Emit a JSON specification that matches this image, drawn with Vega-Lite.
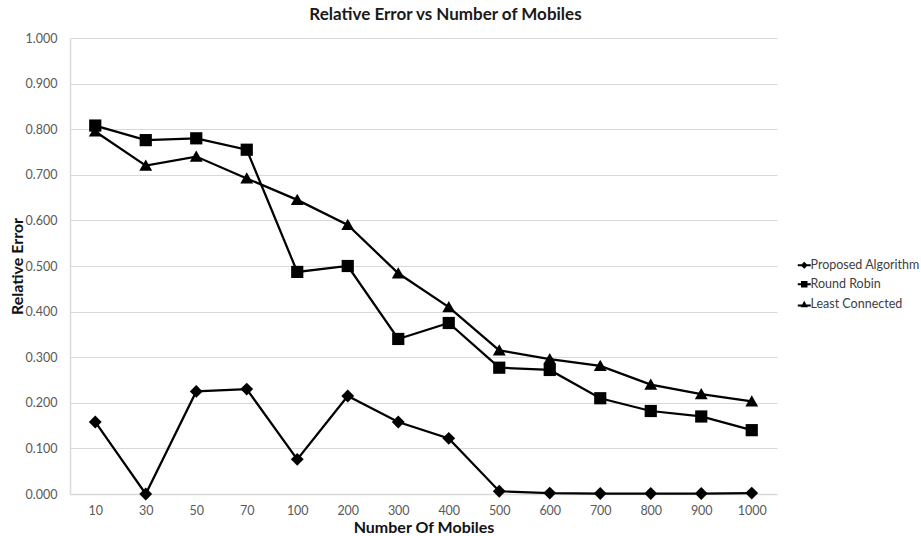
{
  "$schema": "https://vega.github.io/schema/vega-lite/v6.json",
  "width": 707,
  "height": 456,
  "autosize": "none",
  "padding": {"left": 70, "top": 38, "right": 144, "bottom": 42},
  "background": "white",
  "title": {
    "text": "Relative Error vs Number of Mobiles",
    "font": "Lato",
    "fontSize": 17,
    "fontWeight": "bold",
    "color": "#1a1a1a",
    "anchor": "middle",
    "dx": 22,
    "offset": 8
  },
  "config": {
    "view": {"stroke": null},
    "font": "Lato",
    "axis": {
      "labelFont": "Lato",
      "labelFontSize": 12.5,
      "labelColor": "#595959",
      "titleFont": "Lato",
      "titleFontSize": 16,
      "titleFontWeight": "bold",
      "titleColor": "#111111",
      "gridColor": "#d9d9d9",
      "gridWidth": 1,
      "domainColor": "#d9d9d9",
      "domainWidth": 1.5
    }
  },
  "data": {
    "values": [
      {"n": 10, "series": "Proposed Algorithm", "value": 0.158},
      {"n": 30, "series": "Proposed Algorithm", "value": 0.000},
      {"n": 50, "series": "Proposed Algorithm", "value": 0.225},
      {"n": 70, "series": "Proposed Algorithm", "value": 0.230},
      {"n": 100, "series": "Proposed Algorithm", "value": 0.076},
      {"n": 200, "series": "Proposed Algorithm", "value": 0.215},
      {"n": 300, "series": "Proposed Algorithm", "value": 0.158},
      {"n": 400, "series": "Proposed Algorithm", "value": 0.122},
      {"n": 500, "series": "Proposed Algorithm", "value": 0.006},
      {"n": 600, "series": "Proposed Algorithm", "value": 0.002},
      {"n": 700, "series": "Proposed Algorithm", "value": 0.001},
      {"n": 800, "series": "Proposed Algorithm", "value": 0.001},
      {"n": 900, "series": "Proposed Algorithm", "value": 0.001},
      {"n": 1000, "series": "Proposed Algorithm", "value": 0.002},
      {"n": 10, "series": "Round Robin", "value": 0.808},
      {"n": 30, "series": "Round Robin", "value": 0.776},
      {"n": 50, "series": "Round Robin", "value": 0.780},
      {"n": 70, "series": "Round Robin", "value": 0.755},
      {"n": 100, "series": "Round Robin", "value": 0.487},
      {"n": 200, "series": "Round Robin", "value": 0.500},
      {"n": 300, "series": "Round Robin", "value": 0.340},
      {"n": 400, "series": "Round Robin", "value": 0.375},
      {"n": 500, "series": "Round Robin", "value": 0.277},
      {"n": 600, "series": "Round Robin", "value": 0.272},
      {"n": 700, "series": "Round Robin", "value": 0.210},
      {"n": 800, "series": "Round Robin", "value": 0.182},
      {"n": 900, "series": "Round Robin", "value": 0.170},
      {"n": 1000, "series": "Round Robin", "value": 0.140},
      {"n": 10, "series": "Least Connected", "value": 0.795},
      {"n": 30, "series": "Least Connected", "value": 0.720},
      {"n": 50, "series": "Least Connected", "value": 0.740},
      {"n": 70, "series": "Least Connected", "value": 0.692},
      {"n": 100, "series": "Least Connected", "value": 0.645},
      {"n": 200, "series": "Least Connected", "value": 0.590},
      {"n": 300, "series": "Least Connected", "value": 0.484},
      {"n": 400, "series": "Least Connected", "value": 0.410},
      {"n": 500, "series": "Least Connected", "value": 0.315},
      {"n": 600, "series": "Least Connected", "value": 0.296},
      {"n": 700, "series": "Least Connected", "value": 0.281},
      {"n": 800, "series": "Least Connected", "value": 0.240},
      {"n": 900, "series": "Least Connected", "value": 0.219},
      {"n": 1000, "series": "Least Connected", "value": 0.203}
    ]
  },
  "encoding": {
    "x": {
      "field": "n",
      "type": "ordinal",
      "scale": {"type": "point", "padding": 0.5},
      "axis": {
        "title": "Number Of Mobiles",
        "labelAngle": 0,
        "ticks": false,
        "labelPadding": 10,
        "titlePadding": 3,
        "grid": false
      }
    },
    "y": {
      "field": "value",
      "type": "quantitative",
      "scale": {"domain": [0, 1], "nice": false},
      "axis": {
        "title": "Relative Error",
        "values": [0, 0.1, 0.2, 0.3, 0.4, 0.5, 0.6, 0.7, 0.8, 0.9, 1.0],
        "format": ".3f",
        "ticks": false,
        "labelPadding": 13,
        "titlePadding": 0
      }
    }
  },
  "resolve": {"scale": {"shape": "independent"}},
  "layer": [
    {
      "mark": {"type": "line", "color": "black", "strokeWidth": 2.25},
      "encoding": {"detail": {"field": "series"}}
    },
    {
      "mark": {"type": "point", "filled": true, "color": "black", "opacity": 1, "size": 165},
      "encoding": {
        "shape": {
          "field": "series",
          "type": "nominal",
          "scale": {
            "domain": ["Proposed Algorithm", "Round Robin", "Least Connected"],
            "range": [
              "M0,-1L1,0L0,1L-1,0Z",
              "M-0.95,-0.95H0.95V0.95H-0.95Z",
              "M0,-0.95L1,0.8H-1Z"
            ]
          },
          "legend": null
        }
      }
    },
    {
      "mark": {"type": "point", "filled": true, "color": "black", "opacity": 0, "size": 10},
      "encoding": {
        "shape": {
          "field": "series",
          "type": "nominal",
          "scale": {
            "domain": ["Proposed Algorithm", "Round Robin", "Least Connected"],
            "range": [
              "M-1.8,-0.25H1.8V0.25H-1.8ZM0,-1L1,0L0,1L-1,0Z",
              "M-1.8,-0.25H1.8V0.25H-1.8ZM-0.9,-0.9H0.9V0.9H-0.9Z",
              "M-1.8,0.1H1.8V0.6H-1.8ZM0,-0.95L1,0.8H-1Z"
            ]
          },
          "legend": {
            "title": null,
            "orient": "none",
            "legendX": 728,
            "legendY": 221,
            "symbolSize": 52,
            "symbolOpacity": 1,
            "symbolFillColor": "black",
            "labelFont": "Lato",
            "labelFontSize": 12.5,
            "labelColor": "#404040",
            "labelOffset": 0,
            "rowPadding": 6
          }
        }
      }
    }
  ]
}
